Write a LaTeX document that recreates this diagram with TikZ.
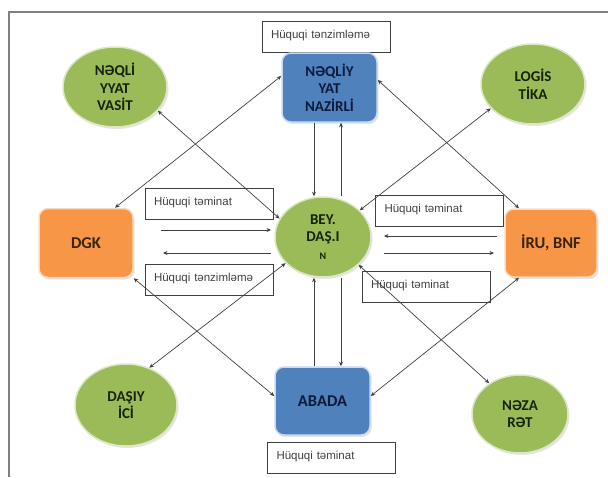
\documentclass[tikz,border=0pt]{standalone}
\usepackage{fontspec}
\setmainfont{Liberation Sans}
\newfontfamily\calib{Carlito}
\usetikzlibrary{shapes.geometric,arrows.meta,shadows}

\definecolor{grn}{HTML}{9BBB59}
\definecolor{org}{HTML}{F79646}
\definecolor{blu}{HTML}{4F81BD}
\definecolor{lin}{HTML}{404040}
\definecolor{gtxt}{HTML}{16230A}
\definecolor{otxt}{HTML}{3B2308}
\definecolor{btxt}{HTML}{0D1A3A}

\begin{document}
\begin{tikzpicture}[x=1pt,y=-1pt,>={Stealth[length=4.5pt,width=4pt]},
  oval/.style={ellipse,fill=grn,draw=grn!35!white,line width=1.5pt,minimum width=104pt,minimum height=80pt,
    inner sep=0pt,align=center,text=gtxt,font=\calib\bfseries\fontsize{15}{17.5}\selectfont,
    drop shadow={opacity=0.2,shadow xshift=1.5pt,shadow yshift=-2pt}},
  orgbox/.style={rectangle,rounded corners=9pt,fill=org,draw=org!35!white,line width=1.5pt,minimum width=94pt,
    minimum height=69pt,align=center,text=otxt,font=\calib\bfseries\fontsize{16.5}{18}\selectfont,
    drop shadow={opacity=0.2,shadow xshift=1.5pt,shadow yshift=-2pt}},
  blubox/.style={orgbox,fill=blu,draw=blu!30!white,text=btxt},
  lab/.style={rectangle,draw=lin,line width=0.7pt,minimum height=31pt,text width=110pt,inner xsep=9pt,
    text depth=5pt,align=left,text=black!75,font=\fontsize{11.5}{13}\selectfont},
  link/.style={draw=lin,line width=0.7pt}]

\useasboundingbox (0,0) rectangle (608,477);
\draw[gray,line width=1.2pt] (608,12) -- (9,12) -- (9,477);

\node (l1) at (326,36.5) [lab] {Hüquqi tənzimləmə};
\node (l2) at (209,203.5) [lab] {Hüquqi təminat};
\node (l3) at (209,280) [lab] {Hüquqi tənzimləmə};
\node (l4) at (439.5,210.5) [lab] {Hüquqi təminat};
\node (l5) at (426,287) [lab] {Hüquqi təminat};
\node (l6) at (331.5,457.5) [lab] {Hüquqi təminat};

\node (nv) at (115,87) [oval] {NƏQLİ\\YYAT\\VASİT};
\node (logis) at (533,84) [oval] {LOGİS\\TİKA};
\node (nazir) at (329.5,87.5) [blubox,minimum width=95pt,font=\calib\bfseries\fontsize{15}{17.5}\selectfont] {NƏQLİY\\YAT\\NAZİRLİ};
\node (dgk) at (86,243) [orgbox] {DGK};
\node (c) at (323,237) [oval,minimum width=96pt,minimum height=80pt] {BEY.\\DAŞ.I\\{\fontsize{10}{12}\selectfont N}};
\node (iru) at (551,243) [orgbox,minimum width=92pt,minimum height=68pt] {İRU, BNF};
\node (dasiy) at (126,405) [oval,minimum width=102pt,minimum height=82pt] {DAŞIY\\İCİ};
\node (abada) at (322.5,401) [blubox,minimum width=95pt,minimum height=68pt] {ABADA};
\node (neza) at (520,414) [oval,minimum width=96pt,minimum height=78pt] {NƏZA\\RƏT};

\coordinate (la) at (161,230);
\coordinate (lb) at (271,230);
\coordinate (lc) at (271,253);
\coordinate (ld) at (163,253);
\coordinate (ra) at (497,236);
\coordinate (rb) at (384,236);
\coordinate (rc) at (384,253);
\coordinate (rd) at (494,253);

\draw[link,<->] (nv.-29) -- (c.157);
\draw[link,<->] ([xshift=29pt]dgk.north) -- ([yshift=11.5pt]nazir.west);
\draw[link,<->] ([yshift=7.5pt]nazir.east) -- ([xshift=-32pt]iru.north);
\draw[link,<->] (logis.210) -- (c.36);
\draw[link,<->] (dgk.south east) -- ([yshift=5pt]abada.west);
\draw[link,<->] (c.215) -- (dasiy.58);
\draw[link,<->] (c.-38) -- (neza.135);
\draw[link,<->] ([xshift=-32pt]iru.south) -- ([yshift=5pt]abada.east);

\draw[link,->] ([xshift=-15.5pt]nazir.south) -- ([xshift=-9pt]c.north);
\draw[link,->] ([xshift=18pt]c.north) -- ([xshift=11.5pt]nazir.south);
\draw[link,->] ([xshift=-8.5pt]abada.north) -- ([xshift=-9pt]c.south);
\draw[link,->] ([xshift=18pt]c.south) -- ([xshift=18.5pt]abada.north);

\draw[link,->] (la) -- (lb);
\draw[link,->] (lc) -- (ld);
\draw[link,->] (ra) -- (rb);
\draw[link,->] (rc) -- (rd);

\end{tikzpicture}
\end{document}
